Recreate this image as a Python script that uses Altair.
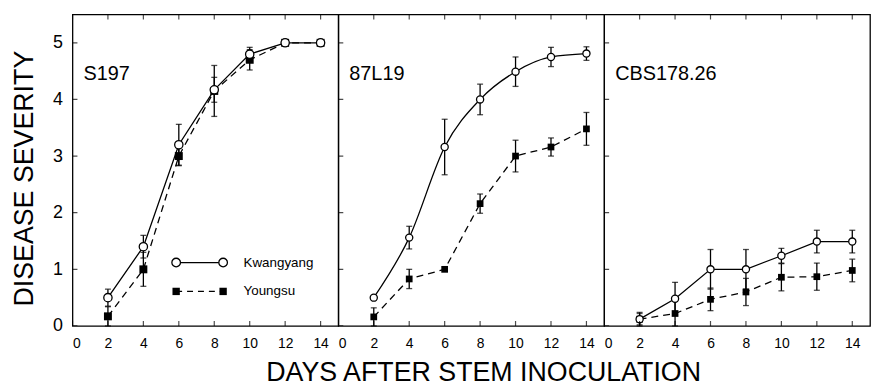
import altair as alt
import pandas as pd

# ---------------- data ----------------
days = [2, 4, 6, 8, 10, 12, 14]
isolates = ["S197", "87L19", "CBS178.26"]
cultivars = ["Kwangyang", "Youngsu"]

kwangyang_mean = {
    "S197":      [0.50, 1.40, 3.20, 4.17, 4.80, 5.00, 5.00],
    "87L19":     [0.50, 1.56, 3.16, 4.00, 4.49, 4.75, 4.81],
    "CBS178.26": [0.12, 0.48, 1.00, 1.00, 1.24, 1.49, 1.49],
}
kwangyang_err = {
    "S197":      [0.15, 0.20, 0.36, 0.22, 0.12, 0.00, 0.00],
    "87L19":     [0.00, 0.20, 0.49, 0.27, 0.26, 0.17, 0.12],
    "CBS178.26": [0.12, 0.29, 0.35, 0.35, 0.13, 0.20, 0.20],
}
youngsu_mean = {
    "S197":      [0.17, 1.00, 3.00, 4.15, 4.70, 5.00, 5.00],
    "87L19":     [0.16, 0.83, 1.00, 2.16, 3.00, 3.16, 3.48],
    "CBS178.26": [0.12, 0.22, 0.47, 0.60, 0.86, 0.87, 0.98],
}
youngsu_err = {
    "S197":      [0.17, 0.30, 0.17, 0.45, 0.18, 0.00, 0.00],
    "87L19":     [0.16, 0.17, 0.00, 0.17, 0.28, 0.16, 0.29],
    "CBS178.26": [0.10, 0.25, 0.20, 0.24, 0.24, 0.24, 0.20],
}

x_ticks = [0, 2, 4, 6, 8, 10, 12, 14]
y_ticks = [0, 1, 2, 3, 4, 5]

FONT = "Liberation Sans, Arial, Helvetica, sans-serif"

rows = []
for iso in isolates:
    for cv, mm, ee in [("Kwangyang", kwangyang_mean, kwangyang_err),
                       ("Youngsu", youngsu_mean, youngsu_err)]:
        for d, m, e in zip(days, mm[iso], ee[iso]):
            rows.append(dict(isolate=iso, cultivar=cv, day=d, mean=m, err=e,
                             lo=max(m - e, 0), hi=m + e))
df = pd.DataFrame(rows)

# curve style per panel
interp_k = {"S197": "linear", "87L19": "monotone", "CBS178.26": "linear"}
interp_y = {"S197": "linear", "87L19": "linear", "CBS178.26": "linear"}

xscale = alt.Scale(domain=[0, 15], nice=False, zero=False)
yscale = alt.Scale(domain=[0, 5.5], nice=False)

PW, PH = 268, 314


def panel(i, iso):
    d = df[df.isolate == iso]
    dk = d[d.cultivar == "Kwangyang"]
    dy = d[d.cultivar == "Youngsu"]
    de = d[d.err > 0]

    xaxis = alt.Axis(values=x_ticks, tickSize=0, ticks=False, domain=False, grid=False,
                     labelFontSize=14, labelPadding=11, labelFont=FONT,
                     title="DAYS AFTER STEM INOCULATION" if i == 1 else "",
                     titleFontSize=27, titleFont=FONT, titleFontWeight="normal",
                     titlePadding=9, titleX=146, titleAlign="center")
    if i == 0:
        yaxis = alt.Axis(values=y_ticks, tickSize=0, ticks=False, domain=False, grid=False,
                         labelFontSize=18, labelPadding=10, labelFont=FONT,
                         title="DISEASE  SEVERITY", titleFontSize=27, titleFont=FONT,
                         titleFontWeight="normal", titlePadding=14, titleY=165)
    else:
        yaxis = None

    def X(f):
        return alt.X(f, type="quantitative", scale=xscale, axis=xaxis)

    def Y(f):
        return alt.Y(f, type="quantitative", scale=yscale, axis=yaxis)

    msize = 70 if i == 0 else 52
    layers = []
    layers.append(alt.Chart(dk).mark_line(color="black", strokeWidth=1.3,
                                          interpolate=interp_k[iso]).encode(X("day"), Y("mean")))
    layers.append(alt.Chart(dy).mark_line(color="black", strokeWidth=1.3, strokeDash=[7, 5],
                                          interpolate=interp_y[iso]).encode(X("day"), Y("mean")))
    # error bars
    layers.append(alt.Chart(de).mark_rule(color="black", strokeWidth=1.3).encode(
        X("day"), Y("lo"), y2="hi"))
    layers.append(alt.Chart(de).mark_tick(color="black", orient="horizontal", size=6,
                                          thickness=1.3).encode(X("day"), Y("lo")))
    layers.append(alt.Chart(de).mark_tick(color="black", orient="horizontal", size=6,
                                          thickness=1.3).encode(X("day"), Y("hi")))
    # markers
    layers.append(alt.Chart(dy).mark_point(shape="square", filled=True, color="black",
                                           size=msize - 6, opacity=1).encode(X("day"), Y("mean")))
    layers.append(alt.Chart(dk).mark_point(shape="circle", filled=True, fill="white",
                                           stroke="black", strokeWidth=1.3, size=msize,
                                           opacity=1).encode(X("day"), Y("mean")))
    # inward ticks
    tx = pd.DataFrame({"v": x_ticks})
    ty = pd.DataFrame({"v": y_ticks})
    layers.append(alt.Chart(ty).mark_tick(color="black", orient="horizontal", size=10,
                                          thickness=1.2, clip=True).encode(
        alt.XDatum(0, type="quantitative", scale=xscale, axis=xaxis), Y("v")))
    layers.append(alt.Chart(tx).mark_tick(color="black", orient="vertical", size=10,
                                          thickness=1.2, clip=True).encode(
        X("v"), alt.YDatum(0, type="quantitative", scale=yscale, axis=yaxis)))
    layers.append(alt.Chart(tx).mark_tick(color="black", orient="vertical", size=10,
                                          thickness=1.2, clip=True).encode(
        X("v"), alt.YDatum(5.5, type="quantitative", scale=yscale, axis=yaxis)))
    # panel label
    lab = pd.DataFrame({"t": [iso], "x": [0.62], "y": [4.44]})
    layers.append(alt.Chart(lab).mark_text(align="left", baseline="middle", fontSize=20,
                                           font=FONT, color="black").encode(
        X("x"), Y("y"), text="t"))

    if i == 0:
        leg = pd.DataFrame({"cultivar": cultivars, "y": [1.12, 0.61]})
        l_pts = pd.DataFrame({"cultivar": [c for c in cultivars for _ in range(2)],
                              "x": [5.85, 8.5] * 2,
                              "y": [1.12, 1.12, 0.61, 0.61]})
        lk = l_pts[l_pts.cultivar == "Kwangyang"]
        ly = l_pts[l_pts.cultivar == "Youngsu"]
        layers.append(alt.Chart(lk).mark_line(color="black", strokeWidth=1.3).encode(X("x"), Y("y")))
        layers.append(alt.Chart(ly).mark_line(color="black", strokeWidth=1.3,
                                              strokeDash=[6, 5]).encode(X("x"), Y("y")))
        layers.append(alt.Chart(ly).mark_point(shape="square", filled=True, color="black",
                                               size=55, opacity=1).encode(X("x"), Y("y")))
        layers.append(alt.Chart(lk).mark_point(shape="circle", filled=True, fill="white",
                                               stroke="black", strokeWidth=1.3, size=75,
                                               opacity=1).encode(X("x"), Y("y")))
        leg["x"] = 9.65
        layers.append(alt.Chart(leg).mark_text(align="left", baseline="middle", fontSize=13.5,
                                               font=FONT, color="black").encode(
            X("x"), Y("y"), text="cultivar"))

    return alt.layer(*layers).properties(width=PW, height=PH)


chart = alt.hconcat(*[panel(i, iso) for i, iso in enumerate(isolates)],
                    spacing=0, bounds="flush").properties(
    padding={"left": 2, "top": 4, "right": 0, "bottom": 0},
    background="white",
).configure_view(stroke="black", strokeWidth=1.3).configure_axis(
    labelColor="black", titleColor="black")

chart.save("out.html", embed_options={"renderer": "svg", "actions": False})
